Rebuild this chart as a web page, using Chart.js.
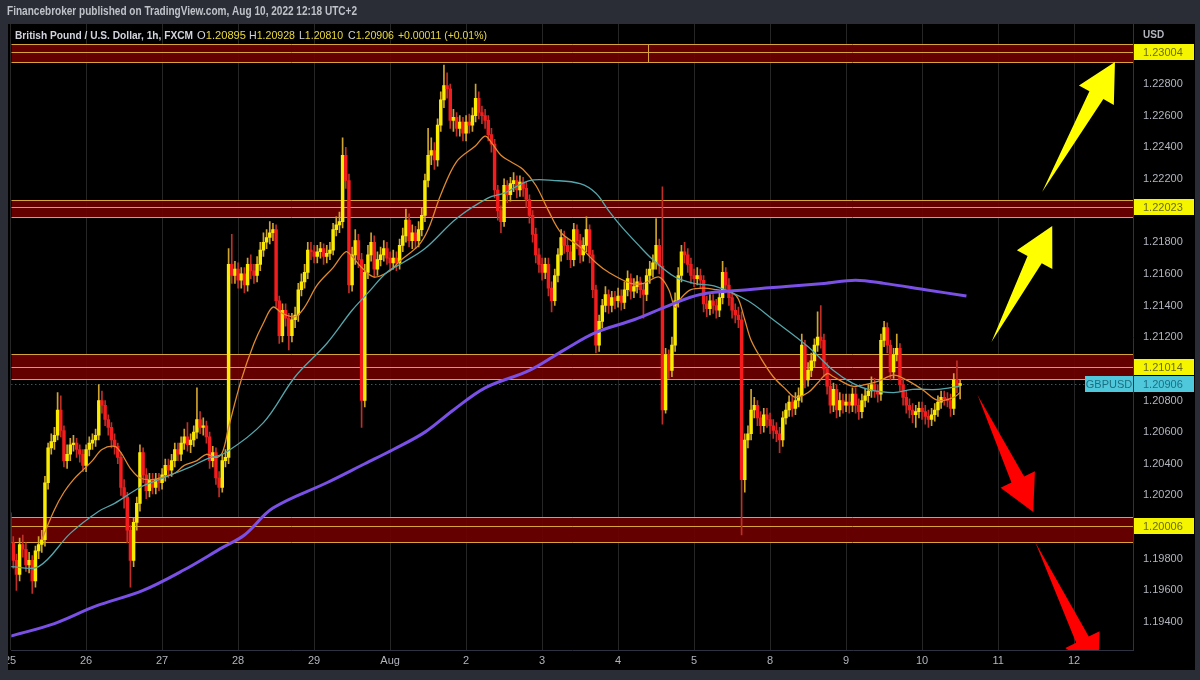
<!DOCTYPE html>
<html>
<head>
<meta charset="utf-8">
<script src="https://cdn.jsdelivr.net/npm/chart.js@4.4.0/dist/chart.umd.min.js"></script>
<style>
  html, body { margin: 0; padding: 0; background: #2a2d35; }
  canvas { display: block; }
</style>
</head>
<body>
<canvas id="chart" width="1200" height="680"></canvas>
<script>
// GBPUSD 1h candles, Jul 25 00:00 .. Aug 10 12:00 (hour index 0..300), prices in pips (1.2009 -> 12009)
const dayLabels = ["25", "26", "27", "28", "29", "Aug", "2", "3", "4", "5", "8", "9", "10", "11", "12"];
const firstOpen = 12009;
const closes = [
  11990, 11979, 11970, 11989, 11986, 11976, 11979, 11966, 11985, 11989, 11992, 12028, 12050, 12054, 12058, 12074, 12061, 12042, 12046, 12052, 12053, 12049, 12046, 12039,
  12049, 12053, 12055, 12058, 12080, 12077, 12068, 12063, 12055, 12051, 12044, 12025, 12019, 11998, 11979, 12003, 12015, 12047, 12033, 12023, 12030, 12025, 12030, 12028,
  12033, 12039, 12036, 12042, 12049, 12046, 12053, 12057, 12052, 12055, 12060, 12068, 12063, 12064, 12057, 12042, 12047, 12031, 12025, 12042, 12044, 12166, 12159, 12163,
  12156, 12160, 12153, 12166, 12162, 12159, 12166, 12175, 12180, 12183, 12186, 12188, 12143, 12121, 12137, 12132, 12121, 12131, 12134, 12150, 12155, 12161, 12175, 12174,
  12171, 12174, 12176, 12171, 12173, 12175, 12188, 12191, 12193, 12235, 12219, 12153, 12172, 12181, 12169, 12080, 12161, 12172, 12180, 12163, 12169, 12172, 12176, 12170,
  12167, 12170, 12167, 12178, 12184, 12194, 12181, 12186, 12181, 12188, 12197, 12219, 12235, 12238, 12232, 12254, 12270, 12279, 12277, 12257, 12259, 12252, 12256, 12249,
  12256, 12254, 12260, 12271, 12262, 12260, 12257, 12248, 12242, 12213, 12200, 12193, 12216, 12210, 12217, 12219, 12213, 12218, 12214, 12207, 12197, 12185, 12172, 12166,
  12161, 12166, 12151, 12143, 12159, 12172, 12183, 12178, 12174, 12169, 12188, 12181, 12172, 12178, 12188, 12172, 12150, 12115, 12130, 12140, 12147, 12140, 12145, 12143,
  12146, 12142, 12150, 12157, 12149, 12152, 12155, 12150, 12147, 12159, 12163, 12167, 12178, 12165, 12074, 12109, 12099, 12115, 12143, 12159, 12174, 12172, 12166, 12159,
  12157, 12159, 12156, 12141, 12138, 12143, 12140, 12137, 12145, 12161, 12153, 12145, 12137, 12134, 12131, 12030, 12055, 12059, 12074, 12077, 12069, 12064, 12071, 12068,
  12064, 12061, 12059, 12055, 12069, 12074, 12079, 12075, 12080, 12083, 12115, 12093, 12099, 12105, 12115, 12120, 12118, 12100, 12089, 12077, 12087, 12074, 12080, 12077,
  12079, 12077, 12084, 12077, 12073, 12080, 12083, 12086, 12090, 12086, 12084, 12118, 12126, 12115, 12098, 12109, 12113, 12090, 12082, 12077, 12074, 12071, 12073, 12075,
  12073, 12070, 12068, 12071, 12074, 12079, 12082, 12081, 12080, 12075, 12093, 12089.5, 12090.6
];
const highs = [
  12013, 11994, 11983, 11993, 11995, 11990, 11984, 11982, 11988, 11994, 11998, 12032, 12053, 12059, 12063, 12085, 12083, 12064, 12052, 12056, 12058, 12056, 12052, 12049,
  12052, 12057, 12059, 12062, 12090, 12086, 12080, 12071, 12066, 12059, 12053, 12047, 12030, 12022, 12001, 12006, 12019, 12052, 12050, 12037, 12034, 12034, 12034, 12034,
  12037, 12043, 12043, 12046, 12053, 12053, 12057, 12062, 12066, 12059, 12064, 12088, 12073, 12069, 12067, 12060, 12051, 12050, 12035, 12046, 12049, 12176, 12185, 12168,
  12167, 12164, 12164, 12170, 12172, 12166, 12171, 12180, 12186, 12188, 12193, 12192, 12191, 12146, 12141, 12141, 12135, 12135, 12139, 12154, 12160, 12166, 12180, 12180,
  12178, 12178, 12180, 12179, 12178, 12180, 12192, 12196, 12199, 12246, 12240, 12223, 12177, 12188, 12185, 12173, 12166, 12178, 12186, 12184, 12174, 12177, 12181, 12180,
  12174, 12175, 12174, 12182, 12189, 12201, 12198, 12191, 12190, 12193, 12202, 12223, 12252, 12246, 12243, 12258, 12275, 12292, 12287, 12280, 12264, 12262, 12260, 12259,
  12260, 12261, 12265, 12280, 12275, 12266, 12264, 12260, 12252, 12245, 12216, 12203, 12220, 12219, 12221, 12224, 12222, 12222, 12221, 12218, 12210, 12200, 12189, 12176,
  12170, 12170, 12170, 12155, 12163, 12176, 12188, 12187, 12182, 12178, 12192, 12191, 12185, 12183, 12196, 12191, 12175, 12153, 12134, 12144, 12152, 12150, 12149, 12149,
  12151, 12150, 12155, 12162, 12160, 12157, 12159, 12158, 12154, 12163, 12168, 12172, 12195, 12182, 12215, 12113, 12112, 12120, 12148, 12164, 12178, 12180, 12176, 12170,
  12163, 12164, 12163, 12159, 12146, 12147, 12147, 12144, 12149, 12168, 12164, 12157, 12149, 12141, 12139, 12136, 12059, 12064, 12087, 12082, 12080, 12073, 12075, 12075,
  12072, 12068, 12066, 12063, 12073, 12078, 12083, 12083, 12085, 12088, 12122, 12118, 12104, 12110, 12119, 12136, 12140, 12122, 12104, 12093, 12091, 12090, 12085, 12084,
  12084, 12084, 12088, 12088, 12081, 12084, 12087, 12090, 12095, 12094, 12090, 12122, 12130, 12129, 12118, 12113, 12122, 12116, 12094, 12086, 12081, 12078, 12077, 12079,
  12079, 12077, 12074, 12075, 12078, 12083, 12086, 12086, 12085, 12084, 12097, 12105, 12092.8
];
const lows = [
  11986, 11974, 11960, 11966, 11981, 11972, 11971, 11958, 11962, 11980, 11984, 11988, 12024, 12046, 12049, 12055, 12057, 12038, 12037, 12042, 12048, 12044, 12041, 12035,
  12035, 12045, 12049, 12051, 12055, 12072, 12064, 12058, 12050, 12046, 12040, 12020, 12012, 11990, 11962, 11975, 11998, 12010, 12028, 12018, 12019, 12021, 12021, 12023,
  12024, 12029, 12031, 12032, 12038, 12042, 12042, 12049, 12048, 12047, 12051, 12056, 12059, 12058, 12053, 12037, 12038, 12027, 12019, 12022, 12038, 12040, 12154, 12154,
  12151, 12151, 12148, 12149, 12157, 12154, 12155, 12162, 12171, 12176, 12179, 12181, 12139, 12116, 12117, 12127, 12112, 12117, 12126, 12130, 12146, 12151, 12157, 12169,
  12167, 12167, 12170, 12166, 12167, 12169, 12172, 12184, 12186, 12189, 12214, 12148, 12149, 12166, 12164, 12063, 12076, 12157, 12168, 12158, 12159, 12165, 12168, 12166,
  12162, 12163, 12162, 12163, 12174, 12180, 12177, 12176, 12176, 12177, 12184, 12193, 12215, 12229, 12226, 12228, 12250, 12265, 12271, 12252, 12250, 12247, 12247, 12244,
  12244, 12249, 12250, 12256, 12258, 12255, 12252, 12244, 12237, 12208, 12194, 12186, 12190, 12205, 12206, 12212, 12208, 12209, 12209, 12202, 12192, 12180, 12167, 12161,
  12156, 12157, 12146, 12136, 12140, 12155, 12168, 12173, 12169, 12164, 12165, 12176, 12167, 12168, 12174, 12167, 12145, 12110, 12111, 12126, 12136, 12135, 12136, 12138,
  12139, 12137, 12138, 12146, 12144, 12145, 12148, 12145, 12132, 12143, 12154, 12158, 12163, 12160, 12065, 12072, 12094, 12095, 12111, 12139, 12155, 12167, 12161, 12154,
  12152, 12153, 12151, 12136, 12133, 12134, 12135, 12132, 12133, 12141, 12148, 12140, 12132, 12129, 12126, 11995, 12022, 12050, 12055, 12069, 12064, 12059, 12060, 12063,
  12059, 12056, 12054, 12047, 12051, 12065, 12070, 12070, 12071, 12076, 12079, 12088, 12089, 12095, 12101, 12111, 12113, 12095, 12084, 12072, 12073, 12069, 12070, 12072,
  12073, 12072, 12073, 12072, 12068, 12069, 12076, 12079, 12082, 12082, 12079, 12080, 12114, 12110, 12093, 12094, 12105, 12086, 12077, 12072, 12069, 12066, 12063, 12069,
  12068, 12065, 12063, 12064, 12067, 12070, 12075, 12077, 12076, 12070, 12071, 12085, 12081
];

// moving averages (hour index, pips)
const emaHours = [10, 14, 17, 20, 23, 26, 29, 33, 35, 38, 41, 45, 49, 52, 55, 59, 62, 65, 67, 69, 73, 77, 80, 83, 86, 90, 93, 97, 102, 106, 108, 111, 115, 120, 123, 129, 132, 136, 141, 147, 150, 152, 155, 158, 162, 166, 170, 174, 180, 185, 189, 196, 200, 205, 208, 210, 212, 215, 219, 223, 228, 230, 232, 234, 237, 241, 245, 248, 252, 255, 258, 260, 266, 270, 274, 279, 283, 288, 293, 298, 300];
const emaValues = [11992, 12011, 12022, 12030, 12036, 12042, 12049, 12051, 12047, 12037, 12031, 12030, 12032, 12034, 12039, 12042, 12046, 12044, 12047, 12063, 12093, 12116, 12129, 12139, 12135, 12133, 12139, 12153, 12164, 12174, 12171, 12164, 12158, 12162, 12168, 12178, 12188, 12210, 12231, 12241, 12247, 12243, 12235, 12231, 12226, 12216, 12200, 12186, 12177, 12167, 12161, 12154, 12154, 12158, 12150, 12139, 12145, 12150, 12151, 12150, 12148, 12144, 12131, 12118, 12107, 12095, 12087, 12082, 12085, 12091, 12097, 12095, 12089, 12090, 12092, 12096, 12093, 12087, 12080, 12082, 12085];
const ma50Hours = [0, 9, 19, 28, 33, 41, 47, 52, 57, 62, 68, 80, 90, 100, 108, 113, 119, 124, 131, 141, 151, 156, 164, 172, 180, 185, 189, 193, 199, 203, 210, 216, 223, 233, 241, 252, 260, 266, 271, 279, 285, 293, 300];
const ma50Values = [11975, 11975, 11996, 12010, 12015, 12025, 12030, 12034, 12038, 12043, 12047, 12066, 12095, 12116, 12137, 12148, 12161, 12167, 12176, 12195, 12208, 12211, 12219, 12219, 12217, 12211, 12200, 12190, 12177, 12169, 12158, 12154, 12152, 12143, 12131, 12114, 12099, 12091, 12087, 12085, 12087, 12087, 12089];
const ma200Hours = [0, 14, 27, 42, 55, 67, 74, 83, 100, 112, 121, 131, 140, 150, 164, 175, 185, 197, 208, 218, 233, 245, 257, 267, 276, 289, 302];
const ma200Values = [11931, 11939, 11950, 11960, 11973, 11987, 11995, 12012, 12028, 12040, 12049, 12060, 12074, 12088, 12099, 12112, 12123, 12131, 12140, 12147, 12150, 12152, 12154, 12156, 12154, 12150, 12146];

// price axis
const priceTicks = [1.194, 1.196, 1.198, 1.200, 1.202, 1.204, 1.206, 1.208, 1.210, 1.212, 1.214, 1.216, 1.218, 1.220, 1.222, 1.224, 1.226, 1.228, 1.230];
const hiddenTicks = [1.200, 1.210, 1.220, 1.230];

// support / resistance zones
const zoneLevels = [1.23004, 1.22023, 1.21014, 1.20006];
const zoneTops = [1.23053, 1.22067, 1.21094, 1.20063];
const zoneBottoms = [1.22939, 1.21960, 1.20936, 1.19905];
const lastPrice = 1.20906;

// arrows: [tailHour, tailPrice, tipHour, tipPrice]
const yellowArrows = [[325.9, 1.22117, 348.9, 1.22939], [309.9, 1.21169, 329.1, 1.21903]];
const redArrows = [[305.5, 1.20834, 323.1, 1.20095], [323.7, 1.19905, 343.6, 1.19084]];

const upColor = "#f9ec00";
const downColor = "#f41c1c";
const upWick = "#cfa52e";
const downWick = "#bd2f28";
const frameColor = "#2a2d35";
const tickColor = "#b2b5be";

if (highs.length !== closes.length || lows.length !== closes.length || closes.length !== 301) {
  throw new Error("length mismatch " + closes.length + " " + highs.length + " " + lows.length);
}

const px = (p) => p / 10000;
const opens = closes.map((c, i) => (i === 0 ? firstOpen : closes[i - 1]));
const bodyData = closes.map((c, i) => ({ x: i, y: [px(opens[i]), px(c)] }));
const wickData = closes.map((c, i) => ({ x: i, y: [px(lows[i]), px(highs[i])] }));
const bodyColors = closes.map((c, i) => (c >= opens[i] ? upColor : downColor));
const wickColors = closes.map((c, i) => (c >= opens[i] ? upWick : downWick));
const toPoints = (hours, values) => hours.map((h, i) => ({ x: h, y: px(values[i]) }));

Chart.defaults.font.family = '"Liberation Sans", "DejaVu Sans", sans-serif';

// draws text squeezed/stretched to a given width
function fitText(ctx, text, x, y, width, font, color) {
  ctx.save();
  ctx.font = font;
  ctx.fillStyle = color;
  ctx.textBaseline = "middle";
  ctx.textAlign = "left";
  const s = width / ctx.measureText(text).width;
  ctx.translate(x, y);
  ctx.scale(s, 1);
  ctx.fillText(text, 0, 0);
  ctx.restore();
}

function drawArrow(ctx, x0, y0, x1, y1, color, headLen, headHalf, shaftHalf) {
  const dx = x1 - x0, dy = y1 - y0, len = Math.hypot(dx, dy);
  const ux = dx / len, uy = dy / len, nx = -uy, ny = ux;
  const bx = x1 - ux * headLen, by = y1 - uy * headLen;
  ctx.beginPath();
  ctx.moveTo(x0, y0);
  ctx.lineTo(bx + nx * shaftHalf, by + ny * shaftHalf);
  ctx.lineTo(bx + nx * headHalf, by + ny * headHalf);
  ctx.lineTo(x1, y1);
  ctx.lineTo(bx - nx * headHalf, by - ny * headHalf);
  ctx.lineTo(bx - nx * shaftHalf, by - ny * shaftHalf);
  ctx.closePath();
  ctx.fillStyle = color;
  ctx.fill();
}

function priceBox(ctx, y, text, bg, fg) {
  ctx.fillStyle = bg;
  ctx.fillRect(1134, Math.round(y) - 8, 60, 16);
  ctx.fillStyle = fg;
  ctx.font = '11px "Liberation Sans"';
  ctx.textAlign = "left";
  ctx.textBaseline = "middle";
  ctx.fillText(text, 1143, Math.round(y) + 0.5);
}

const decorations = {
  id: "decorations",
  beforeDraw(chart) {
    const { ctx } = chart;
    ctx.save();
    ctx.fillStyle = frameColor;
    ctx.fillRect(0, 0, 1200, 680);
    ctx.fillStyle = "#000000";
    ctx.fillRect(8, 24, 1187, 646);
    fitText(ctx, "Financebroker published on TradingView.com, Aug 10, 2022 12:18 UTC+2", 7, 12, 350, 'bold 12px "Liberation Sans"', "#bfc2c9");
    ctx.restore();
  },
  beforeDatasetsDraw(chart) {
    const { ctx, chartArea: a, scales: { x, y } } = chart;
    ctx.save();
    ctx.beginPath();
    ctx.rect(a.left, a.top, a.right - a.left, a.bottom - a.top);
    ctx.clip();
    zoneLevels.forEach((lvl, i) => {
      const top = Math.round(y.getPixelForValue(zoneTops[i]));
      const bot = Math.round(y.getPixelForValue(zoneBottoms[i]));
      const mid = Math.round(y.getPixelForValue(lvl));
      ctx.fillStyle = "rgba(112, 0, 0, 0.9)";
      ctx.fillRect(a.left, top, a.right - a.left, bot - top);
      ctx.strokeStyle = "#dba13a";
      ctx.lineWidth = 1;
      [top, mid, bot].forEach((py) => {
        ctx.beginPath();
        ctx.moveTo(a.left, py + 0.5);
        ctx.lineTo(a.right, py + 0.5);
        ctx.stroke();
      });
    });
    // small vertical mark inside the top zone
    const mx = Math.round(x.getPixelForValue(201.3)) + 0.5;
    ctx.beginPath();
    ctx.moveTo(mx, y.getPixelForValue(zoneTops[0]));
    ctx.lineTo(mx, y.getPixelForValue(zoneBottoms[0]));
    ctx.stroke();
    // last price dotted line
    const ly = Math.round(y.getPixelForValue(lastPrice)) + 0.5;
    ctx.strokeStyle = "rgba(110, 160, 170, 0.8)";
    ctx.setLineDash([1, 3]);
    ctx.beginPath();
    ctx.moveTo(a.left, ly);
    ctx.lineTo(a.right, ly);
    ctx.stroke();
    ctx.restore();
  },
  afterDatasetsDraw(chart) {
    const { ctx, chartArea: a, scales: { x, y } } = chart;
    ctx.save();
    ctx.beginPath();
    ctx.rect(a.left, a.top, a.right - a.left, a.bottom - a.top);
    ctx.clip();
    yellowArrows.forEach((r) => drawArrow(ctx, x.getPixelForValue(r[0]), y.getPixelForValue(r[1]),
      x.getPixelForValue(r[2]), y.getPixelForValue(r[3]), "#ffff00", 38, 20, 8));
    redArrows.forEach((r) => drawArrow(ctx, x.getPixelForValue(r[0]), y.getPixelForValue(r[1]),
      x.getPixelForValue(r[2]), y.getPixelForValue(r[3]), "#ff0000", 36, 19, 7));
    ctx.restore();

    // legend line
    ctx.save();
    const white = "#d1d4dc", yellow = "#ead93c";
    fitText(ctx, "British Pound / U.S. Dollar, 1h, FXCM", 15, 36, 178, 'bold 11px "Liberation Sans"', white);
    const pairs = [["O", "1.20895", 197, 49], ["H", "1.20928", 249, 46], ["L", "1.20810", 299, 44], ["C", "1.20906", 348, 46]];
    pairs.forEach(([k, v, px0, w]) => {
      ctx.font = '11px "Liberation Sans"';
      const kw = ctx.measureText(k).width, tw = ctx.measureText(k + v).width;
      const s = w / tw;
      fitText(ctx, k, px0, 36, kw * s, '11px "Liberation Sans"', white);
      fitText(ctx, v, px0 + kw * s, 36, w - kw * s, '11px "Liberation Sans"', yellow);
    });
    fitText(ctx, "+0.00011 (+0.01%)", 398, 36, 89, '11px "Liberation Sans"', yellow);
    ctx.restore();
  },
  afterDraw(chart) {
    const { ctx, scales: { y } } = chart;
    ctx.save();
    // frame strips over anything spilling outside the panel
    ctx.fillStyle = frameColor;
    ctx.fillRect(0, 24, 8, 656);
    ctx.fillRect(0, 670, 1200, 10);
    ctx.fillRect(1195, 24, 5, 656);
    zoneLevels.forEach((lvl) => priceBox(ctx, y.getPixelForValue(lvl), lvl.toFixed(5), "#f5f500", "#6b6b1a"));
    const ly = y.getPixelForValue(lastPrice);
    priceBox(ctx, ly, lastPrice.toFixed(5), "#4fc8dc", "#1d6f80");
    ctx.fillStyle = "#4fc8dc";
    ctx.fillRect(1085, Math.round(ly) - 8, 48, 16);
    ctx.fillStyle = "#1d6f80";
    ctx.font = '11px "Liberation Sans"';
    ctx.textAlign = "center";
    ctx.fillText("GBPUSD", 1109, Math.round(ly) + 0.5);
    ctx.fillStyle = tickColor;
    ctx.textAlign = "left";
    ctx.font = 'bold 10px "Liberation Sans"';
    ctx.fillText("USD", 1143, 35);
    ctx.restore();
  }
};

new Chart(document.getElementById("chart"), {
  type: "bar",
  data: {
    datasets: [
      {
        type: "line", label: "MA200", data: toPoints(ma200Hours, ma200Values),
        borderColor: "#7a50e6", borderWidth: 3, pointRadius: 0, tension: 0.35, order: 0
      },
      {
        type: "line", label: "MA50", data: toPoints(ma50Hours, ma50Values),
        borderColor: "#55a6ac", borderWidth: 1.3, pointRadius: 0, tension: 0.35, order: 0
      },
      {
        type: "line", label: "EMA", data: toPoints(emaHours, emaValues),
        borderColor: "#e0892e", borderWidth: 1.3, pointRadius: 0, tension: 0.35, order: 0
      },
      {
        label: "bodies", data: bodyData, backgroundColor: bodyColors,
        barThickness: 2.8, minBarLength: 1, grouped: false, order: 1
      },
      {
        label: "wicks", data: wickData, backgroundColor: wickColors,
        barThickness: 1, grouped: false, order: 2
      }
    ]
  },
  options: {
    responsive: false,
    animation: false,
    layout: { padding: { left: 8, top: 24, right: 5, bottom: 10 } },
    plugins: { legend: { display: false }, tooltip: { enabled: false } },
    scales: {
      x: {
        type: "linear", min: 0.38, max: 354.6, offset: false,
        grid: { color: "#262626", drawTicks: false, offset: false },
        border: { color: "#2f3240" },
        afterBuildTicks: (s) => { s.ticks = dayLabels.map((_, i) => ({ value: i * 24 })); },
        afterFit: (s) => { s.height = 20; },
        ticks: {
          autoSkip: false, maxRotation: 0, padding: 4, color: tickColor, font: { size: 11 },
          callback: (v) => dayLabels[Math.round(v / 24)]
        }
      },
      y: {
        type: "linear", position: "right", min: 1.192231, max: 1.231792,
        grid: { display: false, drawTicks: false },
        border: { color: "#2f3240" },
        afterBuildTicks: (s) => { s.ticks = priceTicks.map((v) => ({ value: v })); },
        afterFit: (s) => { s.width = 62; },
        ticks: {
          padding: 10, color: tickColor, font: { size: 11 },
          callback: (v) => (hiddenTicks.some((h) => Math.abs(h - v) < 1e-6) ? "" : v.toFixed(5))
        }
      }
    }
  },
  plugins: [decorations]
});
</script>
</body>
</html>
